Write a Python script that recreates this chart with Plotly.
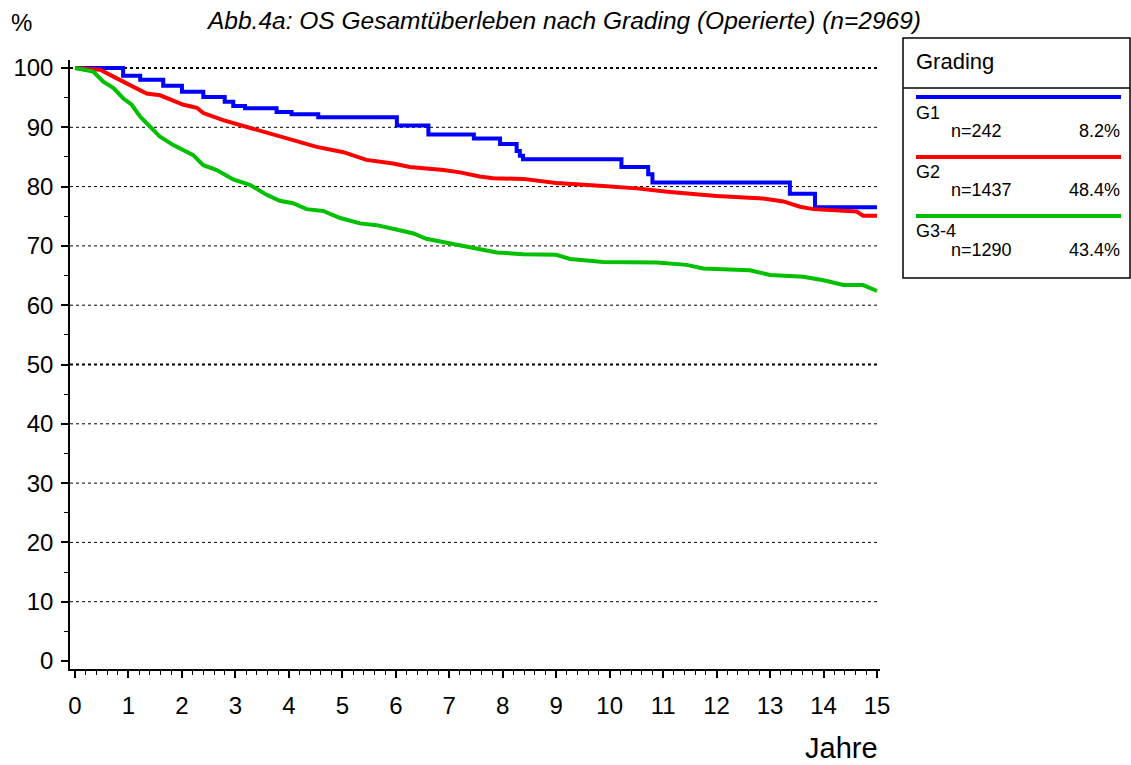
import plotly.graph_objects as go

# ---- data ----
g1_t = [0, 0.90, 1.22, 1.65, 2.0, 2.4, 2.8, 2.96, 3.18, 3.77, 4.05, 4.55, 6.02, 6.61, 7.46, 7.95,
        8.26, 8.32, 8.38, 10.22, 10.72, 10.80, 13.37, 13.84, 15.0]
g1_s = [100, 98.7, 98.0, 97.0, 96.0, 95.1, 94.3, 93.6, 93.2, 92.6, 92.2, 91.7, 90.3, 88.8, 88.1, 87.2,
        86.0, 85.2, 84.6, 83.3, 82.1, 80.7, 78.8, 76.5, 76.5]

g2_t = [0, 0.47, 0.9, 1.34, 1.59, 2.03, 2.28, 2.4, 2.77, 3.21, 3.71, 4.08, 4.52, 5.02, 5.45, 5.95,
        6.26, 6.89, 7.2, 7.57, 7.82, 8.38, 9.0, 9.88, 10.5, 11.13, 12.0, 12.87, 13.25, 13.56, 13.81,
        14.62, 14.74, 15.0]
g2_s = [100, 99.7, 97.7, 95.7, 95.4, 93.8, 93.3, 92.4, 91.2, 90.1, 88.7, 87.9, 86.7, 85.8, 84.5, 83.9,
        83.3, 82.8, 82.4, 81.7, 81.4, 81.3, 80.6, 80.1, 79.7, 79.1, 78.4, 78.0, 77.5, 76.6, 76.2,
        75.8, 75.1, 75.1]

g3_t = [0, 0.34, 0.53, 0.72, 0.9, 1.06, 1.22, 1.4, 1.59, 1.84, 2.21, 2.4, 2.65, 2.96, 3.27, 3.59,
        3.83, 4.08, 4.33, 4.64, 4.96, 5.33, 5.64, 5.95, 6.33, 6.57, 7.01, 7.39, 7.89, 8.38, 9.0, 9.26,
        9.88, 10.88, 11.44, 11.75, 12.62, 13.0, 13.62, 14.0, 14.37, 14.74, 15.0]
g3_s = [100, 99.4, 97.7, 96.6, 94.9, 93.8, 91.8, 90.1, 88.4, 87.0, 85.3, 83.6, 82.8, 81.2, 80.3, 78.6,
        77.6, 77.2, 76.2, 75.9, 74.7, 73.8, 73.5, 72.9, 72.1, 71.2, 70.4, 69.8, 68.9, 68.6, 68.5, 67.8,
        67.3, 67.2, 66.8, 66.2, 65.9, 65.1, 64.8, 64.2, 63.4, 63.4, 62.4]

groups = ["G1", "G2", "G3-4"]
group_n = ["n=242", "n=1437", "n=1290"]
group_pct = ["8.2%", "48.4%", "43.4%"]
colors = ["#0000FF", "#FF0000", "#00C000"]

x_ticks = list(range(0, 16))
y_ticks = list(range(0, 101, 10))
grid_levels = [10, 20, 30, 40, 60, 70, 80, 90]
grid_bold = [50, 100]

title_text = "Abb.4a: OS Gesamtüberleben nach Grading (Operierte) (n=2969)"

FONT = "Liberation Sans, Arial, sans-serif"

# plot area in pixels
L, R, T, B = 70, 880, 60, 669
W, H = 1131, 765


def px(x):
    return (x - L) / (R - L)


def py(y):
    return (B - y) / (B - T)


fig = go.Figure()
fig.add_trace(go.Scatter(x=g1_t, y=g1_s, mode="lines", line=dict(color=colors[0], width=4, shape="hv"),
                         name=groups[0], showlegend=False))
fig.add_trace(go.Scatter(x=g2_t, y=g2_s, mode="lines", line=dict(color=colors[1], width=4),
                         name=groups[1], showlegend=False))
fig.add_trace(go.Scatter(x=g3_t, y=g3_s, mode="lines", line=dict(color=colors[2], width=4),
                         name=groups[2], showlegend=False))

shapes = []
for g in grid_levels:
    shapes.append(dict(type="line", xref="paper", yref="y", x0=0, x1=1, y0=g, y1=g,
                       line=dict(color="black", width=1, dash="dot"), layer="below"))
for g in grid_bold:
    shapes.append(dict(type="line", xref="paper", yref="y", x0=0, x1=1, y0=g, y1=g,
                       line=dict(color="black", width=2, dash="dot"), layer="below"))

# legend box
shapes.append(dict(type="rect", xref="paper", yref="paper", x0=px(903), x1=px(1130), y0=py(278), y1=py(38),
                   line=dict(color="black", width=1.5), fillcolor="white"))
shapes.append(dict(type="line", xref="paper", yref="paper", x0=px(903), x1=px(1130), y0=py(88), y1=py(88),
                   line=dict(color="black", width=1.5)))

annotations = [
    dict(text="<i>" + title_text + "</i>", x=px(563), y=py(20), xref="paper", yref="paper", showarrow=False,
         font=dict(family=FONT, size=24.5, color="black"), xanchor="center", yanchor="middle"),
    dict(text="%", x=px(9), y=py(23), xref="paper", yref="paper", showarrow=False,
         font=dict(family=FONT, size=24, color="black"), xanchor="left", yanchor="middle"),
    dict(text="Jahre", x=px(880), y=py(748), xref="paper", yref="paper", showarrow=False,
         font=dict(family=FONT, size=29, color="black"), xanchor="right", yanchor="middle"),
    dict(text="Grading", x=px(914), y=py(61), xref="paper", yref="paper", showarrow=False,
         font=dict(family=FONT, size=22, color="black"), xanchor="left", yanchor="middle"),
]

line_y = [97, 157, 216]
name_y = [113, 172, 231]
n_y = [131, 190, 250]
for i in range(3):
    shapes.append(dict(type="line", xref="paper", yref="paper", x0=px(916), x1=px(1121), y0=py(line_y[i]),
                       y1=py(line_y[i]), line=dict(color=colors[i], width=4)))
    annotations.append(dict(text=groups[i], x=px(914), y=py(name_y[i]), xref="paper", yref="paper",
                            showarrow=False, font=dict(family=FONT, size=18, color="black"),
                            xanchor="left", yanchor="middle"))
    annotations.append(dict(text=group_n[i], x=px(949), y=py(n_y[i]), xref="paper", yref="paper",
                            showarrow=False, font=dict(family=FONT, size=18, color="black"),
                            xanchor="left", yanchor="middle"))
    annotations.append(dict(text=group_pct[i], x=px(1122), y=py(n_y[i]), xref="paper", yref="paper",
                            showarrow=False, font=dict(family=FONT, size=18, color="black"),
                            xanchor="right", yanchor="middle"))

xpp = 802 / 15.0
ypp = 593 / 100.0
fig.update_layout(
    width=W, height=H,
    margin=dict(l=L, r=W - R, t=T, b=H - B, pad=0),
    paper_bgcolor="white", plot_bgcolor="white",
    showlegend=False,
    shapes=shapes,
    annotations=annotations,
    font=dict(family=FONT, color="black"),
    xaxis=dict(range=[0 - 5 / xpp, 15 + 3 / xpp], tickvals=x_ticks, ticktext=[str(v) for v in x_ticks],
               showgrid=False, zeroline=False, showline=True, linecolor="black", linewidth=1.5,
               ticks="outside", ticklen=7, tickwidth=1.5, tickcolor="black",
               tickfont=dict(family=FONT, size=24, color="black"), ticklabelstandoff=7,
               minor=dict(dtick=0.2, tick0=0, ticks="outside", ticklen=4, tickwidth=1.2, tickcolor="black",
                          showgrid=False),
               fixedrange=True),
    yaxis=dict(range=[0 - 8 / ypp, 100 + 8 / ypp], tickvals=y_ticks, ticktext=[str(v) for v in y_ticks],
               showgrid=False, zeroline=False, showline=True, linecolor="black", linewidth=1.5,
               ticks="outside", ticklen=7, tickwidth=1.5, tickcolor="black",
               tickfont=dict(family=FONT, size=24, color="black"), ticklabelstandoff=3,
               minor=dict(dtick=5, tick0=0, ticks="outside", ticklen=4, tickwidth=1.2, tickcolor="black",
                          showgrid=False),
               fixedrange=True),
)

fig.write_html("out.html", config={"displayModeBar": False},
               post_script="document.body.style.margin='0px';")
